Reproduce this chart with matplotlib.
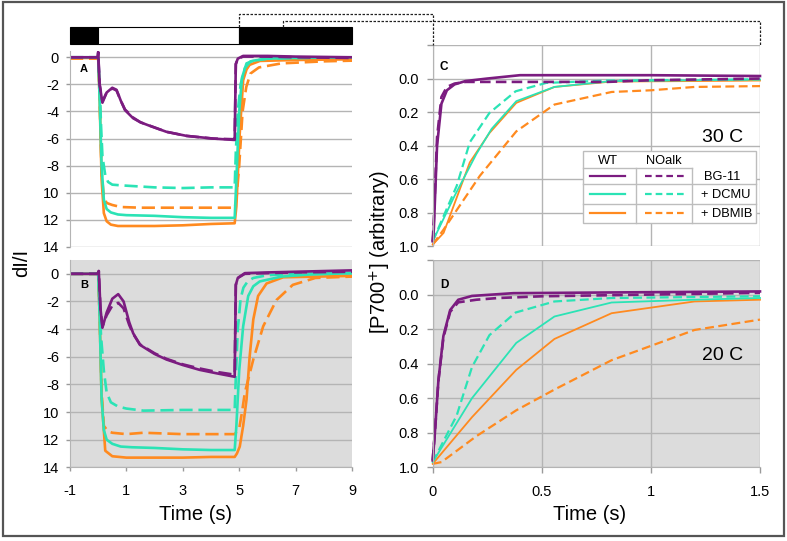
import matplotlib
matplotlib.use("Agg")
import matplotlib.pyplot as plt
from matplotlib.lines import Line2D
from matplotlib.patches import Rectangle

plt.rcParams['font.family'] = ['Liberation Sans', 'DejaVu Sans']
plt.rcParams['axes.unicode_minus'] = False

W, H = 787, 541

PURPLE = '#7B1C80'
TEAL = '#2BE3B5'
ORANGE = '#FF8A1F'
GRAYBG = '#DCDCDC'
GRID = '#B4B4B4'

# ---------------- Panel A (30 C) dI/I traces ----------------
tA_wt_bg = [-1, -0.02, 0.0, 0.05, 0.15, 0.3, 0.5, 0.65, 0.8, 0.95, 1.24, 1.5, 1.83, 2.42, 3.13, 4.08, 4.84, 4.88, 4.95, 5.14, 6.0, 7.0, 9.0]
yA_wt_bg = [0, 0, 0.4, -2.0, -3.35, -2.6, -2.25, -2.4, -3.2, -3.9, -4.5, -4.8, -5.06, -5.5, -5.8, -6.0, -6.1, -0.5, -0.1, 0.1, 0.1, 0.05, 0.0]
tA_no_bg = tA_wt_bg
yA_no_bg = [0, 0, 0.3, -2.0, -3.25, -2.6, -2.3, -2.45, -3.2, -3.85, -4.45, -4.8, -5.05, -5.5, -5.8, -6.0, -6.05, -0.5, -0.1, 0.05, 0.05, 0.0, -0.05]

tA_wt_dc = [-1, 0, 0.05, 0.12, 0.2, 0.3, 0.45, 0.7, 1.0, 2.0, 3.0, 4.0, 4.84, 4.9, 5.0, 5.1, 5.26, 5.5, 6.0, 7.0, 9.0]
yA_wt_dc = [0, 0, -3, -8, -10.5, -11.2, -11.45, -11.6, -11.65, -11.7, -11.8, -11.85, -11.85, -9, -4, -1.5, -0.45, -0.25, -0.1, -0.05, 0.0]
tA_no_dc = [-1, 0, 0.05, 0.1, 0.15, 0.25, 0.35, 0.5, 0.8, 1.2, 2.0, 3.0, 4.0, 4.84, 4.88, 4.95, 5.05, 5.2, 5.4, 6.0, 7.0, 9.0]
yA_no_dc = [0, 0, -2, -5, -7.3, -8.7, -9.2, -9.4, -9.45, -9.5, -9.6, -9.65, -9.6, -9.6, -7, -4, -2, -0.8, -0.3, -0.1, -0.05, 0.0]

tA_wt_db = [-1, 0, 0.05, 0.12, 0.2, 0.3, 0.45, 0.7, 1.0, 2.0, 3.0, 4.0, 4.84, 4.9, 5.02, 5.14, 5.26, 5.37, 5.73, 7.0, 9.0]
yA_wt_db = [-0.05, -0.05, -3, -9, -11.5, -12.1, -12.35, -12.45, -12.45, -12.45, -12.4, -12.3, -12.25, -11, -5.6, -1.7, -0.9, -0.56, -0.27, -0.2, -0.15]
tA_no_db = [-1, 0, 0.05, 0.12, 0.2, 0.3, 0.5, 0.8, 1.5, 2.5, 3.5, 4.84, 4.9, 5.0, 5.12, 5.25, 5.4, 5.7, 6.5, 8.0, 9.0]
yA_no_db = [-0.1, -0.1, -3, -8.5, -10.3, -10.75, -10.9, -11.05, -11.1, -11.1, -11.1, -11.1, -10.5, -8, -4, -2.2, -1.2, -0.75, -0.45, -0.3, -0.25]

# ---------------- Panel B (20 C) dI/I traces ----------------
tB_bg = [-1, -0.02, 0.02, 0.08, 0.15, 0.3, 0.5, 0.71, 0.9, 1.1, 1.24, 1.48, 2.0, 2.42, 3.0, 3.6, 4.2, 4.84, 4.88, 4.95, 5.2, 6.0, 7.0, 9.0]
yB_wt_bg = [0, 0, 0.2, -2.5, -3.9, -2.8, -1.8, -1.47, -2.0, -3.5, -4.3, -5.14, -5.8, -6.2, -6.6, -6.95, -7.2, -7.45, -0.8, -0.3, 0.05, 0.1, 0.15, 0.25]
yB_no_bg = [0, 0, 0.2, -2.5, -3.8, -3.0, -2.3, -2.1, -2.5, -3.7, -4.35, -5.1, -5.75, -6.15, -6.55, -6.85, -7.1, -7.3, -0.8, -0.3, 0.0, 0.05, 0.1, 0.15]

tB_wt_dc = [-1, 0, 0.05, 0.12, 0.2, 0.3, 0.5, 0.8, 1.2, 2.0, 3.0, 4.0, 4.84, 4.9, 5.0, 5.14, 5.32, 5.5, 5.73, 6.5, 7.5, 9.0]
yB_wt_dc = [0, 0, -3, -9, -11.3, -12.0, -12.3, -12.5, -12.55, -12.6, -12.7, -12.75, -12.75, -11, -7, -3.8, -1.6, -0.9, -0.55, -0.2, -0.05, 0.05]
tB_no_dc = [-1, 0, 0.05, 0.1, 0.2, 0.3, 0.45, 0.7, 1.0, 1.6, 3.0, 4.84, 4.88, 4.95, 5.05, 5.15, 5.3, 5.5, 6.0, 7.0, 9.0]
yB_no_dc = [0, 0, -2, -4.5, -7.0, -8.6, -9.3, -9.6, -9.75, -9.9, -9.85, -9.85, -7.5, -4, -1.8, -1.0, -0.55, -0.3, -0.1, 0.0, 0.05]

tB_wt_db = [-1, 0, 0.05, 0.12, 0.25, 0.5, 1.0, 2.0, 3.0, 4.0, 4.84, 4.92, 5.02, 5.14, 5.26, 5.37, 5.5, 5.67, 5.97, 6.56, 9.0]
yB_wt_db = [0, 0, -3, -9, -12.8, -13.2, -13.3, -13.3, -13.3, -13.25, -13.25, -13.0, -12.5, -11.0, -9.1, -6.0, -3.3, -1.6, -0.7, -0.25, -0.15]
tB_no_db = [-1, 0, 0.05, 0.12, 0.2, 0.35, 0.5, 1.0, 1.6, 3.0, 4.84, 5.0, 5.1, 5.2, 5.5, 5.85, 6.32, 6.9, 7.7, 9.0]
yB_no_db = [0, 0, -3, -8.5, -11.0, -11.4, -11.5, -11.6, -11.5, -11.6, -11.6, -11.2, -10.0, -8.6, -6.2, -3.8, -1.9, -0.8, -0.3, -0.2]

# ---------------- Panel C (30 C) P700+ re-reduction ----------------
tC_wt_bg = [0, 0.005, 0.02, 0.04, 0.065, 0.1, 0.15, 0.25, 0.4, 0.6, 1.0, 1.5]
yC_wt_bg = [0.97, 0.9, 0.40, 0.15, 0.07, 0.035, 0.015, 0.0, -0.02, -0.02, -0.02, -0.015]
tC_no_bg = [0, 0.005, 0.02, 0.04, 0.065, 0.1, 0.15, 0.25, 0.4, 0.8, 1.0, 1.5]
yC_no_bg = [0.97, 0.85, 0.35, 0.11, 0.05, 0.03, 0.02, 0.02, 0.02, 0.02, 0.01, 0.0]
tC_wt_dc = [0, 0.1, 0.2, 0.27, 0.383, 0.558, 0.82, 1.2, 1.5]
yC_wt_dc = [0.97, 0.70, 0.45, 0.30, 0.135, 0.05, 0.015, 0.01, 0.005]
tC_no_dc = [0, 0.11, 0.17, 0.26, 0.38, 0.52, 0.8, 1.0, 1.5]
yC_no_dc = [0.97, 0.64, 0.38, 0.205, 0.076, 0.026, 0.012, 0.01, 0.005]
tC_wt_db = [0, 0.05, 0.17, 0.26, 0.383, 0.558, 0.82, 1.2, 1.5]
yC_wt_db = [0.99, 0.92, 0.50, 0.325, 0.145, 0.05, 0.018, 0.015, 0.012]
tC_no_db = [0, 0.05, 0.216, 0.383, 0.558, 0.82, 1.0, 1.2, 1.5]
yC_no_db = [0.99, 0.90, 0.58, 0.315, 0.155, 0.08, 0.07, 0.05, 0.045]

# ---------------- Panel D (20 C) P700+ re-reduction ----------------
tD_wt_bg = [0, 0.01, 0.026, 0.049, 0.08, 0.117, 0.18, 0.37, 0.8, 1.5]
yD_wt_bg = [0.96, 0.8, 0.5, 0.24, 0.09, 0.03, 0.008, -0.008, -0.012, -0.018]
tD_no_bg = [0, 0.01, 0.026, 0.049, 0.08, 0.117, 0.2, 0.3, 0.5, 1.0, 1.5]
yD_no_bg = [0.96, 0.8, 0.5, 0.25, 0.10, 0.045, 0.03, 0.02, 0.01, 0.0, -0.01]
tD_wt_dc = [0, 0.18, 0.383, 0.558, 0.82, 1.2, 1.5]
yD_wt_dc = [0.97, 0.60, 0.28, 0.127, 0.046, 0.03, 0.02]
tD_no_dc = [0, 0.11, 0.18, 0.26, 0.38, 0.558, 0.82, 1.5]
yD_no_dc = [0.97, 0.70, 0.42, 0.235, 0.104, 0.04, 0.02, 0.01]
tD_wt_db = [0, 0.18, 0.383, 0.558, 0.82, 1.2, 1.5]
yD_wt_db = [0.98, 0.71, 0.436, 0.257, 0.108, 0.04, 0.03]
tD_no_db = [0, 0.04, 0.2, 0.383, 0.558, 0.82, 1.2, 1.5]
yD_no_db = [0.98, 0.97, 0.82, 0.67, 0.55, 0.38, 0.205, 0.145]

left_xticks = [-1, 1, 3, 5, 7, 9]
left_yticks = [0, -2, -4, -6, -8, -10, -12, -14]
left_yticklabels = ['0', '-2', '-4', '-6', '-8', '10', '12', '14']
right_xticks = [0, 0.5, 1, 1.5]
right_xticklabels = ['0', '0.5', '1', '1.5']
right_yticks = [-0.2, 0.0, 0.2, 0.4, 0.6, 0.8, 1.0]
right_yticklabels = ['', '0.0', '0.2', '0.4', '0.6', '0.8', '1.0']

legend_rows = ['BG-11', '+ DCMU', '+ DBMIB']
legend_cols = ['WT', 'NOalk']
row_colors = [PURPLE, TEAL, ORANGE]


def ax_rect(x0, y0, x1, y1):
    return [x0 / W, 1 - y1 / H, (x1 - x0) / W, (y1 - y0) / H]


def fx(x):
    return x / W


def fy(y):
    return 1 - y / H


fig = plt.figure(figsize=(W / 100, H / 100), dpi=100)

axA = fig.add_axes(ax_rect(70, 50.5, 352, 247))
axB = fig.add_axes(ax_rect(70, 260, 352, 467.3))
axC = fig.add_axes(ax_rect(432.7, 45, 760, 246.3))
axD = fig.add_axes(ax_rect(432.7, 260, 760, 467.3))

DASH_L = (0, (5, 2.2))
DASH_R = (0, (4, 2))

for ax, bg in [(axA, 'white'), (axB, GRAYBG)]:
    ax.set_facecolor(bg)
    ax.set_xlim(-1, 9)
    ax.set_yticks(left_yticks)
    ax.set_yticklabels(left_yticklabels)
    ax.set_xticks(left_xticks)
    ax.yaxis.grid(True, color=GRID, linewidth=1.0)
    ax.set_axisbelow(True)
    for s in ['top', 'right']:
        ax.spines[s].set_visible(False)
    ax.spines['left'].set_color(GRID)
    ax.spines['bottom'].set_color(GRID)
    ax.tick_params(axis='both', colors='#9A9A9A', labelcolor='black', labelsize=10.5, length=3, width=1)
    ax.tick_params(axis='y', pad=5)
    ax.tick_params(axis='x', pad=9)

axA.set_ylim(-14, 0.5)
axB.set_ylim(-14, 1.0)
axA.tick_params(axis='x', which='both', bottom=False, labelbottom=False)
axA.spines['bottom'].set_visible(False)

lwL = 1.9
axA.plot(tA_wt_db, yA_wt_db, color=ORANGE, lw=lwL)
axA.plot(tA_no_db, yA_no_db, color=ORANGE, lw=lwL, linestyle=DASH_L)
axA.plot(tA_wt_dc, yA_wt_dc, color=TEAL, lw=lwL)
axA.plot(tA_no_dc, yA_no_dc, color=TEAL, lw=lwL, linestyle=DASH_L)
axA.plot(tA_no_bg, yA_no_bg, color=PURPLE, lw=lwL, linestyle=DASH_L)
axA.plot(tA_wt_bg, yA_wt_bg, color=PURPLE, lw=lwL)

axB.plot(tB_wt_db, yB_wt_db, color=ORANGE, lw=lwL)
axB.plot(tB_no_db, yB_no_db, color=ORANGE, lw=lwL, linestyle=DASH_L)
axB.plot(tB_wt_dc, yB_wt_dc, color=TEAL, lw=lwL)
axB.plot(tB_no_dc, yB_no_dc, color=TEAL, lw=lwL, linestyle=DASH_L)
axB.plot(tB_bg, yB_no_bg, color=PURPLE, lw=lwL, linestyle=DASH_L)
axB.plot(tB_bg, yB_wt_bg, color=PURPLE, lw=lwL)

for ax, bg in [(axC, 'white'), (axD, GRAYBG)]:
    ax.set_facecolor(bg)
    ax.set_xlim(0, 1.5)
    ax.set_ylim(1.0, -0.2)
    ax.set_xticks(right_xticks)
    ax.set_xticklabels(right_xticklabels)
    ax.set_yticks(right_yticks)
    ax.set_yticklabels(right_yticklabels)
    ax.grid(True, color=GRID, linewidth=1.0)
    ax.set_axisbelow(True)
    for s in ['top', 'right']:
        ax.spines[s].set_visible(False)
    ax.spines['left'].set_color(GRID)
    ax.spines['bottom'].set_color(GRID)
    ax.tick_params(axis='both', colors='#9A9A9A', labelcolor='black', labelsize=10.5, length=4, width=1)
    ax.tick_params(axis='y', pad=6)
    ax.tick_params(axis='x', pad=9)

axC.tick_params(axis='x', bottom=False, labelbottom=False)
axC.spines['bottom'].set_visible(False)

for ax, data in [
    (axC, [(tC_wt_db, yC_wt_db, ORANGE, '-'), (tC_no_db, yC_no_db, ORANGE, DASH_R),
           (tC_wt_dc, yC_wt_dc, TEAL, '-'), (tC_no_dc, yC_no_dc, TEAL, DASH_R),
           (tC_no_bg, yC_no_bg, PURPLE, DASH_R), (tC_wt_bg, yC_wt_bg, PURPLE, '-')]),
    (axD, [(tD_wt_db, yD_wt_db, ORANGE, '-'), (tD_no_db, yD_no_db, ORANGE, DASH_R),
           (tD_wt_dc, yD_wt_dc, TEAL, '-'), (tD_no_dc, yD_no_dc, TEAL, DASH_R),
           (tD_no_bg, yD_no_bg, PURPLE, DASH_R), (tD_wt_bg, yD_wt_bg, PURPLE, '-')]),
]:
    for t, y, c, ls in data:
        lw = 1.9 if c == PURPLE else (1.3 if ls == '-' else 1.6)
        ax.plot(t, y, color=c, lw=lw, linestyle=ls, clip_on=False)

# Panel letters
fig.text(fx(80), fy(69), 'A', fontsize=8, fontweight='bold', va='center', ha='left')
fig.text(fx(80), fy(285), 'B', fontsize=8, fontweight='bold', va='center', ha='left')
fig.text(fx(440), fy(67), 'C', fontsize=8.5, fontweight='bold', va='center', ha='left')
fig.text(fx(440), fy(285), 'D', fontsize=8.5, fontweight='bold', va='center', ha='left')

fig.text(fx(723), fy(137), '30 C', fontsize=14, ha='center', va='center')
fig.text(fx(723), fy(355), '20 C', fontsize=14, ha='center', va='center')

fig.text(fx(196), fy(514), 'Time (s)', fontsize=14.5, ha='center', va='center')
fig.text(fx(590), fy(514), 'Time (s)', fontsize=14.5, ha='center', va='center')
fig.text(fx(22), fy(263), 'dI/I', fontsize=14.5, ha='center', va='center', rotation=90)
fig.text(fx(380), fy(252), '[P700$^{+}$] (arbitrary)', fontsize=14.5, ha='center', va='center', rotation=90)

# Light/dark bar above panel A
bar_y0, bar_y1 = 27, 44
def xpix(t):
    return 70 + (t + 1) * 28.2
fig.add_artist(Rectangle((fx(xpix(-1)), fy(bar_y1)), fx(xpix(0)) - fx(xpix(-1)), fy(bar_y0) - fy(bar_y1),
                         transform=fig.transFigure, facecolor='black', edgecolor='black', lw=0.8))
fig.add_artist(Rectangle((fx(xpix(0)), fy(bar_y1)), fx(xpix(5)) - fx(xpix(0)), fy(bar_y0) - fy(bar_y1),
                         transform=fig.transFigure, facecolor='white', edgecolor='black', lw=0.8))
fig.add_artist(Rectangle((fx(xpix(5)), fy(bar_y1)), fx(xpix(9)) - fx(xpix(5)), fy(bar_y0) - fy(bar_y1),
                         transform=fig.transFigure, facecolor='black', edgecolor='black', lw=0.8))

# Dashed connectors
dash = (0, (2, 1.2))
fig.add_artist(Line2D([fx(239), fx(239), fx(433), fx(433)], [fy(27), fy(14), fy(14), fy(45)],
                      transform=fig.transFigure, color='#222222', lw=0.9, linestyle=dash))
fig.add_artist(Line2D([fx(283), fx(283), fx(759.5), fx(759.5)], [fy(27), fy(21), fy(21), fy(45)],
                      transform=fig.transFigure, color='#222222', lw=0.9, linestyle=dash))

# Legend table
bx0, bx1, by0, by1 = 582.7, 755.7, 150.7, 223.3
fig.add_artist(Rectangle((fx(bx0), fy(by1)), fx(bx1) - fx(bx0), fy(by0) - fy(by1), transform=fig.transFigure,
                         facecolor='white', edgecolor='#BDBDBD', lw=1.0, zorder=5))
vx1, vx2 = 636, 692.3
hys = [184.3, 204.3]
fig.add_artist(Line2D([fx(bx0), fx(vx2)], [fy(168), fy(168)], transform=fig.transFigure, color='#BDBDBD', lw=1.0, zorder=6))
for hy in hys:
    fig.add_artist(Line2D([fx(bx0), fx(bx1)], [fy(hy), fy(hy)], transform=fig.transFigure, color='#BDBDBD', lw=1.0, zorder=6))
for vx in [vx1, vx2]:
    fig.add_artist(Line2D([fx(vx), fx(vx)], [fy(168), fy(by1)], transform=fig.transFigure, color='#BDBDBD', lw=1.0, zorder=6))
fig.text(fx(607.7), fy(161), legend_cols[0], fontsize=9.3, ha='center', va='center', zorder=7)
fig.text(fx(664), fy(161), legend_cols[1], fontsize=9.3, ha='center', va='center', zorder=7)
row_y = [175.5, 194.3, 213.3]
label_x = [721.7, 725.7, 726.7]
for lab, c, yy, lx in zip(legend_rows, row_colors, row_y, label_x):
    fig.add_artist(Line2D([fx(590), fx(624.5)], [fy(yy), fy(yy)], transform=fig.transFigure, color=c, lw=1.6, zorder=7))
    fig.add_artist(Line2D([fx(645), fx(683.5)], [fy(yy), fy(yy)], transform=fig.transFigure, color=c, lw=1.6,
                          linestyle=(0, (3, 1.8)), zorder=7))
    fig.text(fx(lx), fy(yy + 1), lab, fontsize=9.3, ha='center', va='center', zorder=7)

# Outer frame
fig.add_artist(Rectangle((fx(2.5), fy(536)), fx(784) - fx(2.5), fy(2) - fy(536), transform=fig.transFigure,
                         facecolor='none', edgecolor='#555555', lw=1.6))

fig.savefig('out.png', dpi=100)
